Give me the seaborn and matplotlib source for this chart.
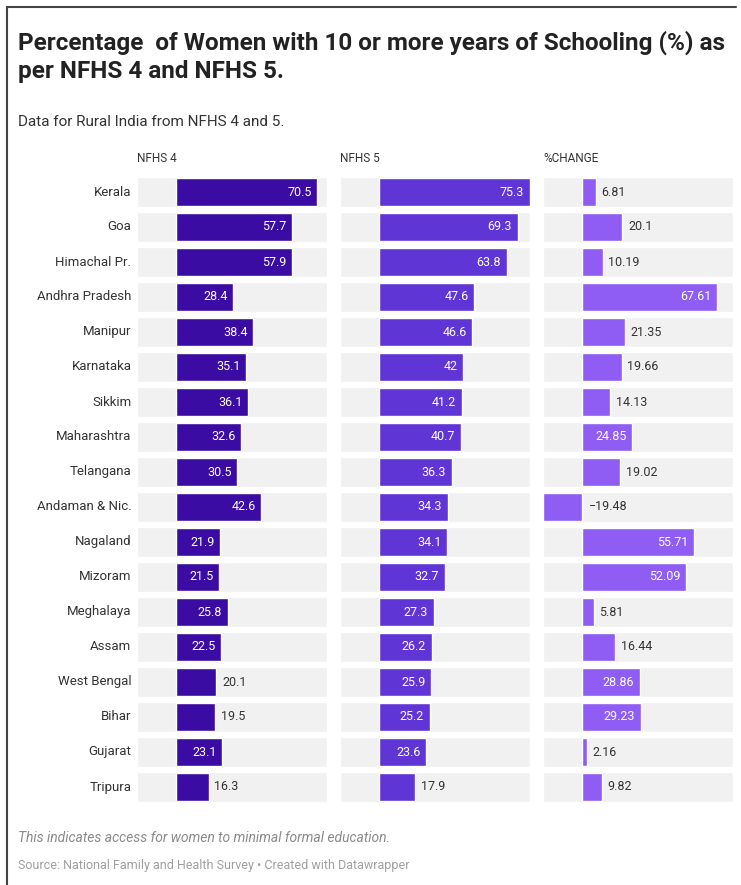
import matplotlib
matplotlib.use('Agg')
import matplotlib.pyplot as plt
from matplotlib.lines import Line2D
import seaborn as sns

# Data
states = ['Kerala', 'Goa', 'Himachal Pr.', 'Andhra Pradesh', 'Manipur', 'Karnataka',
          'Sikkim', 'Maharashtra', 'Telangana', 'Andaman & Nic.', 'Nagaland', 'Mizoram',
          'Meghalaya', 'Assam', 'West Bengal', 'Bihar', 'Gujarat', 'Tripura']
nfhs4 = [70.5, 57.7, 57.9, 28.4, 38.4, 35.1, 36.1, 32.6, 30.5, 42.6,
         21.9, 21.5, 25.8, 22.5, 20.1, 19.5, 23.1, 16.3]
nfhs5 = [75.3, 69.3, 63.8, 47.6, 46.6, 42, 41.2, 40.7, 36.3, 34.3,
         34.1, 32.7, 27.3, 26.2, 25.9, 25.2, 23.6, 17.9]
pct_change = [6.81, 20.1, 10.19, 67.61, 21.35, 19.66, 14.13, 24.85, 19.02, -19.48,
              55.71, 52.09, 5.81, 16.44, 28.86, 29.23, 2.16, 9.82]
panel_titles = ['NFHS 4', 'NFHS 5', '%CHANGE']

title = 'Percentage  of Women with 10 or more years of Schooling (%) as\nper NFHS 4 and NFHS 5.'
subtitle = 'Data for Rural India from NFHS 4 and 5.'
note = 'This indicates access for women to minimal formal education.'
source = 'Source: National Family and Health Survey \u2022 Created with Datawrapper'

sns.set_theme(style='white')
plt.rcParams['font.family'] = ['Roboto', 'DejaVu Sans']

W, H = 741, 885
fig = plt.figure(figsize=(W / 100, H / 100), dpi=100)


def box(left, top, width, height):
    """pixel box (from top-left) -> figure fraction"""
    return [left / W, 1 - (top + height) / H, width / W, height / H]


def fmt(v):
    s = f'{v:g}'
    return s.replace('-', '\u2212')


def draw_panel(ax, values, color, show_states):
    xmin, xmax = -19.6, 75.4
    n = len(states)
    # grey row bands
    ax.barh(range(n), width=xmax - xmin, left=xmin, height=0.88,
            color='#f1f1f1', zorder=0)
    sns.barplot(x=values, y=states, orient='h', color=color, saturation=1,
                width=0.8, ax=ax, zorder=2)
    ax.set_xlim(xmin, xmax)
    ax.set_ylim(n - 0.5, -0.5)
    ax.set_axis_off()

    for i, v in enumerate(values):
        s = fmt(v)
        if v < 0:
            ax.annotate(s, xy=(0, i), xytext=(5, 0), textcoords='offset points',
                        ha='left', va='center', fontsize=9, color='#333333')
        elif v > 4 * len(s) + 4.5:
            ax.annotate(s, xy=(v, i), xytext=(-4, 0), textcoords='offset points',
                        ha='right', va='center', fontsize=9, color='white')
        else:
            ax.annotate(s, xy=(v, i), xytext=(4, 0), textcoords='offset points',
                        ha='left', va='center', fontsize=9, color='#333333')

    if show_states:
        for i, st in enumerate(states):
            ax.annotate(st, xy=(0, i), xycoords=('axes fraction', 'data'),
                        xytext=(-4, 0), textcoords='offset points',
                        ha='right', va='center', fontsize=9.5, color='#333333')


panel_left = [137, 340, 543]
panel_colors = ['#3a0ca3', '#6035d6', '#8f5cf4']
panel_values = [nfhs4, nfhs5, pct_change]

for k in range(3):
    ax = fig.add_axes(box(panel_left[k], 174.5, 190, 630))
    draw_panel(ax, panel_values[k], panel_colors[k], show_states=(k == 0))
    fig.text(panel_left[k] / W, 1 - 158 / H, panel_titles[k], ha='left', va='center',
             fontsize=8.5, color='#333333')

# titles and footer
fig.text(18 / W, 1 - 31 / H, title, ha='left', va='top', fontsize=17.5,
         fontweight='bold', color='#222222', linespacing=1.25)
fig.text(18 / W, 1 - 122 / H, subtitle, ha='left', va='center', fontsize=11,
         color='#333333')
fig.text(18 / W, 1 - 838 / H, note, ha='left', va='center', fontsize=10,
         style='italic', color='#8a8a8a')
fig.text(18 / W, 1 - 866 / H, source, ha='left', va='center', fontsize=9,
         color='#a0a0a0')

# frame lines of the screenshot
fig.add_artist(Line2D([7 / W, 7 / W], [0, 1 - 7 / H], color='#444444', lw=1.5))
fig.add_artist(Line2D([7 / W, 736 / W], [1 - 7 / H, 1 - 7 / H], color='#444444', lw=1.5))

fig.savefig('out.png', dpi=100)
